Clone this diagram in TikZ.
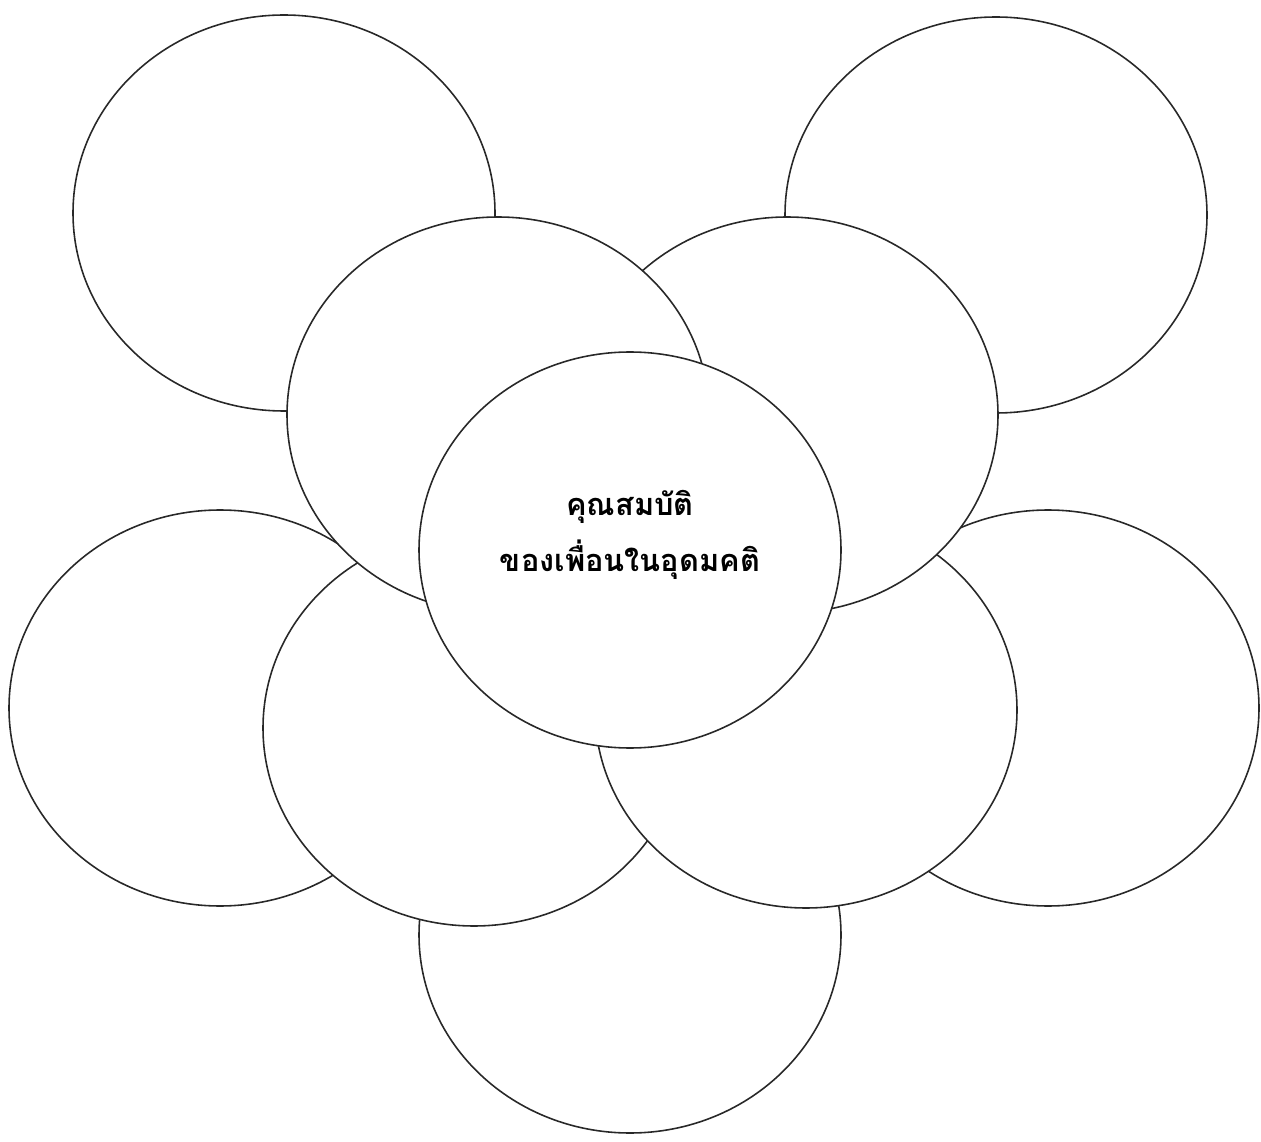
\documentclass[tikz,border=0pt]{standalone}
\usepackage{fontspec}
\newfontfamily\thaifont[Script=Thai]{Loma}
\definecolor{inkGray}{RGB}{40,40,40}
\usepackage{tikz}
\usetikzlibrary{shapes.geometric,positioning}

\begin{document}
\begin{tikzpicture}[
    bubble/.style={ellipse,draw=inkGray,fill=white,line width=0.9pt,
      minimum width=8.44cm,minimum height=7.92cm,inner sep=0pt,outer sep=0pt}]
          \useasboundingbox (0,0) rectangle (25.22,-22.84);
          % back row
          \node[bubble] (topleft) at (5.68,-4.26) {};
          \node[bubble] (topright) at (19.92,-4.30) {};
          \node[bubble] (bottom) at (12.60,-18.70) {};
          \node[bubble] (farleft) at (4.40,-14.16) {};
          \node[bubble] (farright) at (20.96,-14.16) {};
          % front row
          \node[bubble] (lowleft) at (9.48,-14.56) {};
          \node[bubble] (lowright) at (16.12,-14.20) {};
          \node[bubble] (upright) at (15.74,-8.30) {};
          \node[bubble] (upleft) at (9.96,-8.30) {};
          \node[bubble] (middle) at (12.60,-11.00) {};
          \node[font=\thaifont\bfseries\fontsize{17.5}{32}\selectfont,align=center] (title) at (12.60,-10.70)
            {คุณสมบัติ\\ของเพื่อนในอุดมคติ};
        \end{tikzpicture}
\end{document}
